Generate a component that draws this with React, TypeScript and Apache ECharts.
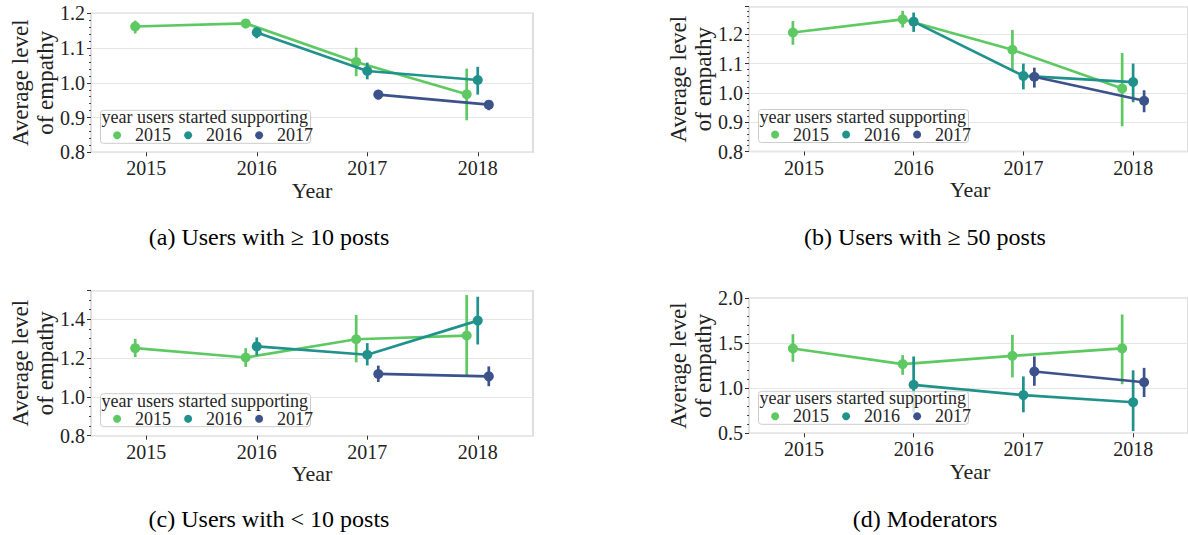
import React, { useEffect, useRef } from "react";
import * as echarts from "echarts";

// ---------- data ----------
const years = ["2015", "2016", "2017", "2018"];
const hues = ["2015", "2016", "2017"];
const hueColors = ["#5ec962", "#21918c", "#3b528b"];
const dodge = [-0.1, 0, 0.1];

// (a) Users with >= 10 posts
const aMean15 = [1.162, 1.171, 1.06, 0.967];
const aLo15 = [1.142, 1.157, 1.019, 0.892];
const aHi15 = [1.179, 1.184, 1.101, 1.041];
const aMean16 = [null, 1.145, 1.034, 1.008];
const aLo16 = [null, 1.128, 1.01, 0.966];
const aHi16 = [null, 1.16, 1.058, 1.046];
const aMean17 = [null, null, 0.966, 0.937];
const aLo17 = [null, null, 0.952, 0.921];
const aHi17 = [null, null, 0.979, 0.95];

// (b) Users with >= 50 posts
const bMean15 = [1.206, 1.251, 1.147, 1.015];
const bLo15 = [1.164, 1.223, 1.075, 0.886];
const bHi15 = [1.245, 1.28, 1.215, 1.136];
const bMean16 = [null, 1.243, 1.058, 1.037];
const bLo16 = [null, 1.208, 1.012, 0.968];
const bHi16 = [null, 1.274, 1.1, 1.1];
const bMean17 = [null, null, 1.055, 0.973];
const bLo17 = [null, null, 1.018, 0.934];
const bHi17 = [null, null, 1.086, 1.009];

// (c) Users with < 10 posts
const cMean15 = [1.251, 1.203, 1.297, 1.316];
const cLo15 = [1.205, 1.154, 1.178, 1.106];
const cHi15 = [1.299, 1.251, 1.422, 1.525];
const cMean16 = [null, 1.26, 1.217, 1.393];
const cLo16 = [null, 1.214, 1.162, 1.27];
const cHi16 = [null, 1.306, 1.277, 1.516];
const cMean17 = [null, null, 1.118, 1.106];
const cLo17 = [null, null, 1.077, 1.055];
const cHi17 = [null, null, 1.161, 1.157];

// (d) Moderators
const dMean15 = [1.442, 1.269, 1.361, 1.443];
const dLo15 = [1.294, 1.15, 1.121, 1.045];
const dHi15 = [1.601, 1.368, 1.594, 1.82];
const dMean16 = [null, 1.039, 0.925, 0.845];
const dLo16 = [null, 0.73, 0.733, 0.524];
const dHi16 = [null, 1.354, 1.132, 1.2];
const dMean17 = [null, null, 1.187, 1.067];
const dLo17 = [null, null, 1.028, 0.903];
const dHi17 = [null, null, 1.354, 1.227];

const captions = [
  "(a) Users with \u2265 10 posts",
  "(b) Users with \u2265 50 posts",
  "(c) Users with < 10 posts",
  "(d) Moderators",
];
const yMin = [0.8, 0.8, 0.8, 0.5];
const yMax = [1.2, 1.294, 1.547, 2.0];
const yInterval = [0.1, 0.1, 0.2, 0.5];
const yMinorSplit = [5, 5, 4, 5];

const yTitle = "Average level\nof empathy";
const xTitle = "Year";
const legendTitle = "year users started supporting";

// ---------- layout ----------
const layout = [
  { left: 91, top: 13.3, width: 442, height: 139, capX: 269, capY: 237 },
  { left: 749, top: 6.7, width: 444, height: 144.8, capX: 925, capY: 237 },
  { left: 91, top: 290.7, width: 442, height: 145, capX: 269, capY: 519 },
  { left: 749, top: 298.3, width: 444, height: 135, capX: 925, capY: 519 },
];

const FONT = "'Liberation Serif', 'Times New Roman', serif";

const panelData = [
  [
    [aMean15, aLo15, aHi15],
    [aMean16, aLo16, aHi16],
    [aMean17, aLo17, aHi17],
  ],
  [
    [bMean15, bLo15, bHi15],
    [bMean16, bLo16, bHi16],
    [bMean17, bLo17, bHi17],
  ],
  [
    [cMean15, cLo15, cHi15],
    [cMean16, cLo16, cHi16],
    [cMean17, cLo17, cHi17],
  ],
  [
    [dMean15, dLo15, dHi15],
    [dMean16, dLo16, dHi16],
    [dMean17, dLo17, dHi17],
  ],
];

function buildOption() {
  const grid: any[] = [];
  const xAxis: any[] = [];
  const yAxis: any[] = [];
  const lineSeries: any[] = [];
  const barSeries: any[] = [];
  const legend: any[] = [];
  const graphic: any[] = [];

  layout.forEach((g, p) => {
    grid.push({
      left: g.left,
      top: g.top,
      width: g.width,
      height: g.height,
      show: true,
      borderColor: "#d4d4d4",
      borderWidth: 1.5,
      backgroundColor: "transparent",
      containLabel: false,
    });
    xAxis.push({
      type: "category",
      gridIndex: p,
      data: years,
      boundaryGap: true,
      axisLine: { show: false, onZero: false },
      axisTick: { show: true, alignWithLabel: true, length: 4, lineStyle: { color: "#333", width: 1 } },
      axisLabel: { fontFamily: FONT, fontSize: 20, color: "#222", margin: 6 },
      splitLine: { show: false },
    });
    xAxis.push({
      type: "value",
      gridIndex: p,
      min: -0.5,
      max: 3.5,
      show: false,
      axisLine: { onZero: false },
    });
    const iv = yInterval[p];
    yAxis.push({
      type: "value",
      gridIndex: p,
      min: yMin[p],
      max: yMax[p],
      interval: iv,
      axisLine: { show: false, onZero: false },
      axisTick: { show: true, length: 4, lineStyle: { color: "#333", width: 1 } },
      minorTick: { show: true, splitNumber: yMinorSplit[p], length: 2, lineStyle: { color: "#444", width: 1 } },
      axisLabel: {
        fontFamily: FONT,
        fontSize: 20,
        color: "#222",
        margin: 6,
        formatter: (v: number) => {
          const k = v / iv;
          return Math.abs(k - Math.round(k)) < 1e-6 ? v.toFixed(1) : "";
        },
      },
      splitLine: { show: true, lineStyle: { color: "#e6e6e6", width: 1 } },
      minorSplitLine: { show: false },
    });

    panelData[p].forEach((arrs, h) => {
      const [mean, lo, hi] = arrs;
      const pts: number[][] = [];
      const errs: number[][] = [];
      mean.forEach((v, i) => {
        if (v == null) return;
        pts.push([i + dodge[h], v as number]);
        errs.push([i + dodge[h], lo[i] as number, hi[i] as number]);
      });
      const color = hueColors[h];
      lineSeries.push({
        type: "line",
        name: hues[h],
        xAxisIndex: 2 * p + 1,
        yAxisIndex: p,
        data: pts,
        symbol: "circle",
        symbolSize: 10,
        showSymbol: true,
        lineStyle: { color, width: 2.7 },
        itemStyle: { color },
        z: 3 + h,
        emphasis: { disabled: true },
      });
      barSeries.push({
        type: "custom",
        name: hues[h],
        xAxisIndex: 2 * p + 1,
        yAxisIndex: p,
        data: errs,
        encode: { x: 0, y: [1, 2] },
        z: 3 + h,
        renderItem: (params: any, api: any) => {
          const x = api.value(0);
          const p1 = api.coord([x, api.value(1)]);
          const p2 = api.coord([x, api.value(2)]);
          return {
            type: "line",
            shape: { x1: p1[0], y1: p1[1], x2: p2[0], y2: p2[1] },
            style: { stroke: color, lineWidth: 2.7 },
          };
        },
      });
    });

    // legend box
    const boxW = 210;
    const boxH = 33;
    const boxLeft = g.left + 9.5;
    const boxTop = g.top + g.height - 9 - boxH;
    graphic.push({
      type: "rect",
      z: 100,
      shape: { x: boxLeft, y: boxTop, width: boxW, height: boxH, r: 3 },
      style: { fill: "rgba(255,255,255,0.8)", stroke: "#cccccc", lineWidth: 1 },
    });
    graphic.push({
      type: "text",
      z: 101,
      x: boxLeft + 1,
      y: boxTop + 7,
      style: {
        text: legendTitle,
        font: `18px ${FONT}`,
        lineHeight: 15,
        fill: "#262626",
        align: "left",
        verticalAlign: "middle",
        textAlign: "left",
        textVerticalAlign: "middle",
      },
    });
    legend.push({
      left: boxLeft + 12.6,
      top: boxTop + 23.5 - 7.5,
      orient: "horizontal",
      padding: 0,
      itemWidth: 8,
      itemHeight: 8,
      itemGap: 13,
      icon: "circle",
      z: 101,
      selectedMode: false,
      itemStyle: { borderWidth: 0 },
      textStyle: {
        fontFamily: FONT,
        fontSize: 18,
        color: "#262626",
        lineHeight: 15,
        padding: [0, 0, 0, 9],
      },
      data: hues,
    });

    // axis titles
    graphic.push({
      type: "text",
      x: g.left - 58,
      y: g.top + g.height / 2,
      rotation: Math.PI / 2,
      style: {
        text: yTitle,
        font: `23px ${FONT}`,
        fill: "#222",
        lineHeight: 25,
        align: "center",
        verticalAlign: "middle",
        textAlign: "center",
        textVerticalAlign: "middle",
      },
    });
    graphic.push({
      type: "text",
      x: g.left + 221,
      y: g.top + g.height + 38,
      style: {
        text: xTitle,
        font: `22px ${FONT}`,
        fill: "#222",
        align: "center",
        verticalAlign: "middle",
        textAlign: "center",
        textVerticalAlign: "middle",
      },
    });
    graphic.push({
      type: "text",
      x: g.capX,
      y: g.capY,
      style: {
        text: captions[p],
        font: `24px ${FONT}`,
        fill: "#000",
        align: "center",
        verticalAlign: "middle",
        textAlign: "center",
        textVerticalAlign: "middle",
      },
    });
  });

  return {
    animation: false,
    backgroundColor: "#ffffff",
    grid,
    xAxis,
    yAxis,
    legend,
    graphic,
    series: [...lineSeries, ...barSeries],
  };
}

export default function App() {
  const ref = useRef<HTMLDivElement>(null);
  useEffect(() => {
    if (!ref.current) return;
    const chart = echarts.init(ref.current, null, { renderer: "svg" });
    chart.setOption(buildOption() as any);
    return () => chart.dispose();
  }, []);
  return (
    <div
      ref={ref}
      style={{ position: "absolute", left: 0, top: 0, width: 1188, height: 535, background: "#fff" }}
    />
  );
}
